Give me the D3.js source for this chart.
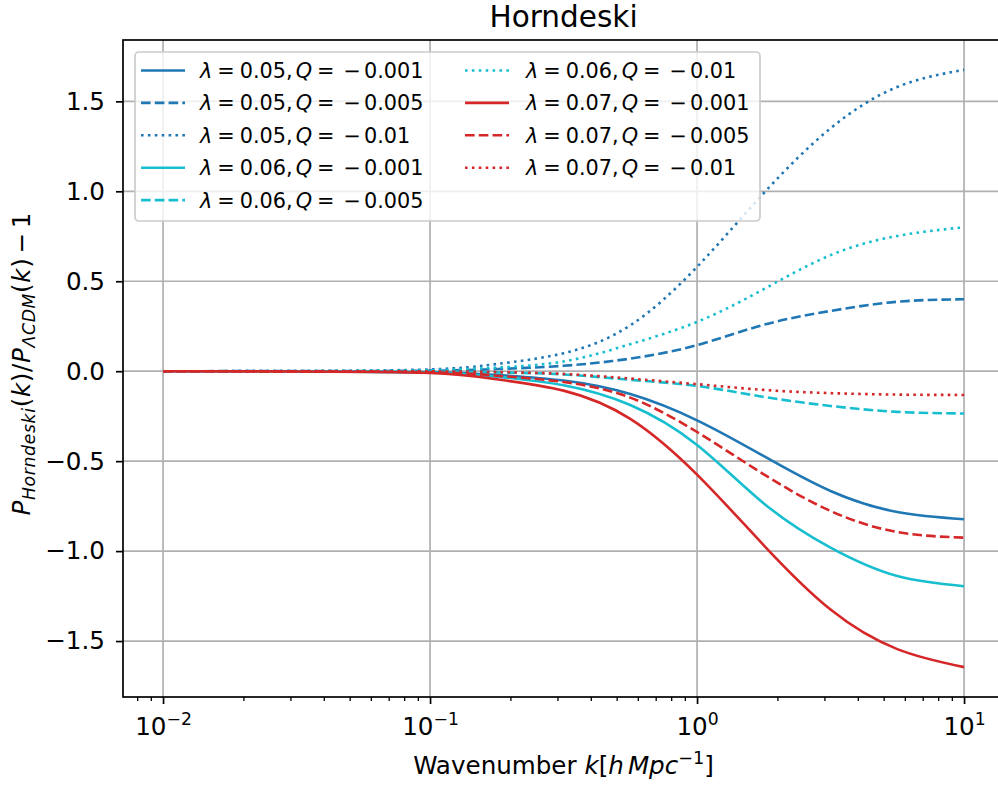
<!DOCTYPE html>
<html><head><meta charset="utf-8">
<script src="https://cdn.jsdelivr.net/npm/d3@7"></script>
<style>
body{margin:0;background:#fff}
svg{display:block}
text{font-family:"DejaVu Sans",sans-serif;fill:#000}
</style>
</head><body>
<svg id="c" width="998" height="785"></svg>
<script>
// ---- data ----
const kValues = [0.01, 0.0316, 0.1, 0.1778, 0.3162, 0.5623, 1, 1.778, 3.162, 5.623, 10];
const lambdaLabels = ["0.05", "0.06", "0.07"];
const qLabels = ["0.001", "0.005", "0.01"];
const yTickValues = [-1.5, -1.0, -0.5, 0.0, 0.5, 1.0, 1.5];
const xTickExponents = [-2, -1, 0, 1];

const ratio_l005_q0001 = [0, -0.001, -0.005, -0.021, -0.052, -0.127, -0.273, -0.472, -0.666, -0.783, -0.823];
const ratio_l005_q0005 = [0, 0.0005, 0.003, 0.012, 0.030, 0.070, 0.145, 0.258, 0.335, 0.386, 0.400];
const ratio_l005_q001  = [0, 0.001, 0.010, 0.040, 0.100, 0.255, 0.580, 0.990, 1.350, 1.580, 1.675];
const ratio_l006_q0001 = [0, -0.001, -0.007, -0.030, -0.078, -0.188, -0.410, -0.735, -0.981, -1.139, -1.195];
const ratio_l006_q0005 = [0, 0, -0.002, -0.007, -0.018, -0.048, -0.082, -0.143, -0.193, -0.226, -0.235];
const ratio_l006_q001  = [0, 0.0005, 0.005, 0.020, 0.054, 0.150, 0.274, 0.456, 0.645, 0.752, 0.800];
const ratio_l007_q0001 = [0, -0.0015, -0.010, -0.045, -0.108, -0.265, -0.575, -0.968, -1.325, -1.545, -1.645];
const ratio_l007_q0005 = [0, -0.001, -0.006, -0.025, -0.060, -0.147, -0.338, -0.573, -0.777, -0.894, -0.925];
const ratio_l007_q001  = [0, 0, -0.001, -0.005, -0.015, -0.041, -0.072, -0.104, -0.122, -0.130, -0.132];

const series = [
  {lam:0, q:0, v:ratio_l005_q0001}, {lam:0, q:1, v:ratio_l005_q0005}, {lam:0, q:2, v:ratio_l005_q001},
  {lam:1, q:0, v:ratio_l006_q0001}, {lam:1, q:1, v:ratio_l006_q0005}, {lam:1, q:2, v:ratio_l006_q001},
  {lam:2, q:0, v:ratio_l007_q0001}, {lam:2, q:1, v:ratio_l007_q0005}, {lam:2, q:2, v:ratio_l007_q001}
];

// ---- styles ----
const colors = ["#1f77b4", "#17becf", "#d62728"];
const LW = 2.6;
const dashes = [null, (3.7*LW)+","+(1.6*LW), (1*LW)+","+(1.65*LW)];
const FS = 24.6;      // axis labels / tick labels
const FS_LEG = 20.8;  // legend
const FS_TITLE = 29.5;

const L = 123, T = 40, B = 697;
const svg = d3.select("#c");

// x: log, 5% margins in log space
const lx0 = Math.log10(d3.min(kValues)), lx1 = Math.log10(d3.max(kValues));
const xm = (lx1 - lx0) * 0.05;
const pxPerDecade = 267;
const R = L + (lx1 - lx0 + 2*xm) * pxPerDecade;
const x = d3.scaleLog().domain([Math.pow(10, lx0 - xm), Math.pow(10, lx1 + xm)]).range([L, R]);

const allV = series.flatMap(s => s.v);
const y0 = d3.min(allV), y1 = d3.max(allV), ym = (y1 - y0) * 0.05;
const y = d3.scaleLinear().domain([y0 - ym, y1 + ym]).range([B, T]);

svg.append("defs").append("clipPath").attr("id", "clip")
  .append("rect").attr("x", L).attr("y", T).attr("width", R - L).attr("height", B - T);

// grid
const grid = svg.append("g");
grid.selectAll(".gx").data(xTickExponents).join("line")
  .attr("x1", d => x(Math.pow(10, d))).attr("x2", d => x(Math.pow(10, d)))
  .attr("y1", T).attr("y2", B).attr("stroke", "#b0b0b0").attr("stroke-width", 1.7);
grid.selectAll(".gy").data(yTickValues).join("line")
  .attr("x1", L).attr("x2", R).attr("y1", d => y(d)).attr("y2", d => y(d))
  .attr("stroke", "#b0b0b0").attr("stroke-width", 1.7);

// lines
const line = d3.line().x((d, i) => x(kValues[i])).y(d => y(d)).curve(d3.curveNatural);
const lg = svg.append("g").attr("clip-path", "url(#clip)");
series.forEach(s => {
  lg.append("path").attr("d", line(s.v)).attr("fill", "none")
    .attr("stroke", colors[s.lam]).attr("stroke-width", LW)
    .attr("stroke-dasharray", dashes[s.q]);
});

// axes
const fmtY = d => (d < 0 ? "\u2212" : "") + Math.abs(d).toFixed(1);
const ay = svg.append("g").attr("transform", `translate(${L},0)`)
  .call(d3.axisLeft(y).tickValues(yTickValues).tickFormat(fmtY).tickSize(7).tickPadding(11).tickSizeOuter(0));
ay.select(".domain").remove();
ay.selectAll("line").attr("stroke-width", 1.7);
ay.selectAll("text").style("font-size", FS + "px").style("font-family", "DejaVu Sans");

const minor = [];
for (let e = -3; e <= 1; e++) for (let m = 2; m <= 9; m++) {
  const v = m * Math.pow(10, e);
  if (v >= x.domain()[0] && v <= x.domain()[1]) minor.push(v);
}
const axm = svg.append("g").attr("transform", `translate(0,${B})`)
  .call(d3.axisBottom(x).tickValues(minor).tickFormat(() => "").tickSize(4).tickSizeOuter(0));
axm.select(".domain").remove();
axm.selectAll("line").attr("stroke-width", 1.3);

const ax = svg.append("g").attr("transform", `translate(0,${B})`)
  .call(d3.axisBottom(x).tickValues(xTickExponents.map(e => Math.pow(10, e))).tickFormat(() => "").tickSize(7).tickSizeOuter(0));
ax.select(".domain").remove();
ax.selectAll("line").attr("stroke-width", 1.7);
ax.selectAll(".tick text").attr("y", 38).attr("dy", null)
  .style("font-size", FS + "px").style("font-family", "DejaVu Sans")
  .each(function(d, i) {
    const t = d3.select(this);
    t.text(null);
    t.append("tspan").text("10");
    t.append("tspan").attr("dy", -10).style("font-size", (FS*0.7) + "px")
      .text((xTickExponents[i] < 0 ? "\u2212" : "") + Math.abs(xTickExponents[i]));
  });

// spines
svg.append("rect").attr("x", L).attr("y", T).attr("width", R - L).attr("height", B - T)
  .attr("fill", "none").attr("stroke", "#000").attr("stroke-width", 1.7);

// title
svg.append("text").attr("x", (L + R) / 2).attr("y", 27).attr("text-anchor", "middle")
  .style("font-size", FS_TITLE + "px").text("Horndeski");

// x label
const xl = svg.append("text").attr("x", (L + R) / 2).attr("y", 774).attr("text-anchor", "middle")
  .style("font-size", FS + "px");
xl.append("tspan").text("Wavenumber ");
xl.append("tspan").style("font-style", "italic").text("k");
xl.append("tspan").text("[");
xl.append("tspan").style("font-style", "italic").text("h");
xl.append("tspan").attr("dx", 4).style("font-style", "italic").text("Mpc");
xl.append("tspan").attr("dy", -10).style("font-size", (FS*0.72) + "px").text("\u22121");
xl.append("tspan").attr("dy", 10).text("]");

// y label
const yl = svg.append("text").attr("transform", `translate(30,364) rotate(-90)`)
  .attr("text-anchor", "middle").style("font-size", FS + "px")
  .attr("textLength", 303).attr("lengthAdjust", "spacing");
const SUB = FS * 0.7;
yl.append("tspan").style("font-style", "italic").text("P");
yl.append("tspan").attr("dy", 5).style("font-style", "italic").style("font-size", SUB + "px").text("Horndeski");
yl.append("tspan").attr("dy", -5).text("(");
yl.append("tspan").style("font-style", "italic").text("k");
yl.append("tspan").text(")/");
yl.append("tspan").style("font-style", "italic").text("P");
yl.append("tspan").attr("dy", 5).style("font-style", "italic").style("font-size", SUB + "px").text("\u039BCDM");
yl.append("tspan").attr("dy", -5).text("(");
yl.append("tspan").style("font-style", "italic").text("k");
yl.append("tspan").text(")");
yl.append("tspan").attr("dx", 4).text("\u2212");
yl.append("tspan").attr("dx", 4).text("1");

// legend
const leg = svg.append("g");
leg.append("rect").attr("x", 135).attr("y", 52).attr("width", 625).attr("height", 169).attr("rx", 4)
  .attr("fill", "rgba(255,255,255,0.8)").attr("stroke", "#cccccc").attr("stroke-width", 1.7);
const rowsPerCol = 5, rowH = 32.4, row0 = 70.5;
const colHandleX = [141, 465], colTextX = [200, 526];
series.forEach((s, i) => {
  const c = Math.floor(i / rowsPerCol), r = i % rowsPerCol;
  const cy = row0 + r * rowH;
  leg.append("line").attr("x1", colHandleX[c]).attr("x2", colHandleX[c] + 44)
    .attr("y1", cy).attr("y2", cy).attr("stroke", colors[s.lam]).attr("stroke-width", LW)
    .attr("stroke-dasharray", dashes[s.q]);
  const t = leg.append("text").attr("x", colTextX[c]).attr("y", cy + 7.5).style("font-size", FS_LEG + "px");
  t.append("tspan").style("font-style", "italic").text("\u03BB");
  t.append("tspan").attr("dx", 5).text("=");
  t.append("tspan").attr("dx", 5).text(lambdaLabels[s.lam] + ",");
  t.append("tspan").attr("dx", 3).style("font-style", "italic").text("Q");
  t.append("tspan").attr("dx", 5).text("=");
  t.append("tspan").attr("dx", 9).text("\u2212");
  t.append("tspan").attr("dx", 3).text(qLabels[s.q]);
});
</script>
</body></html>
